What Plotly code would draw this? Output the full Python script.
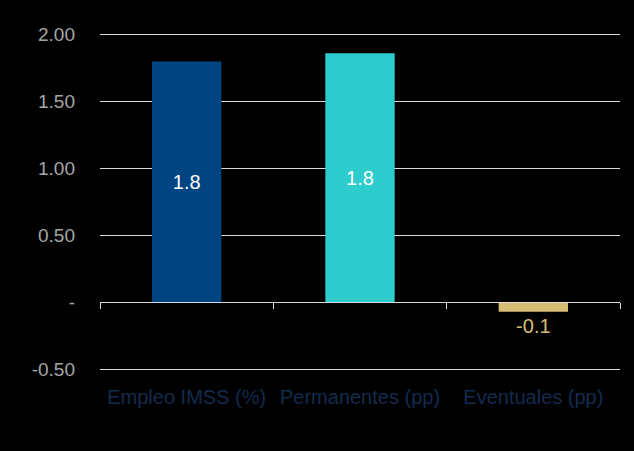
import plotly.graph_objects as go

categories = ["Empleo IMSS (%)", "Permanentes (pp)", "Eventuales (pp)"]
values = [1.80, 1.86, -0.07]
labels = ["1.8", "1.8", "-0.1"]
colors = ["#004481", "#2DCCCD", "#D8BE75"]
text_colors = ["#FFFFFF", "#FFFFFF", "#D8BE75"]
text_positions = ["inside", "inside", "outside"]
ytick_vals = [-0.5, 0, 0.5, 1.0, 1.5, 2.0]
ytick_text = ["-0.50", "-", "0.50", "1.00", "1.50", "2.00"]

y_min, y_max = -0.512, 2.012

fig = go.Figure()
fig.add_trace(go.Bar(
    x=categories, y=values, marker_color=colors, marker_line_width=0,
    text=labels, textposition=text_positions, insidetextanchor="middle",
    textfont=dict(color=text_colors, size=20, family="Liberation Sans, Arial"),
    cliponaxis=False, hoverinfo="skip",
))
# helper axis drawn at y = 0 with boundary ticks
fig.add_trace(go.Scatter(x=categories, y=[None]*3, xaxis="x2", showlegend=False, hoverinfo="skip"))

fig.update_layout(
    width=634, height=451,
    paper_bgcolor="#000000", plot_bgcolor="#000000",
    margin=dict(l=100, r=14, t=33, b=80),
    bargap=0.6, showlegend=False,
    font=dict(family="Liberation Sans, Arial", size=19, color="#A6A6A6"),
    xaxis=dict(showgrid=False, showline=False, ticks="", zeroline=False,
               tickfont=dict(color="#132B4F", size=20), ticklabelstandoff=12),
    xaxis2=dict(matches="x", overlaying="x", anchor="free",
                position=(0 - y_min) / (y_max - y_min),
                showline=True, linecolor="#D9D9D9", linewidth=1,
                ticks="outside", tickson="boundaries", ticklen=6,
                tickcolor="#D9D9D9", showticklabels=False, showgrid=False),
    yaxis=dict(range=[y_min, y_max], tickvals=ytick_vals, ticktext=ytick_text,
               showgrid=True, gridcolor="#D9D9D9", gridwidth=1, zeroline=False,
               showline=False, ticks="", ticklabelstandoff=24,
               tickfont=dict(color="#A6A6A6", size=19)),
)

fig.write_html("out.html")
